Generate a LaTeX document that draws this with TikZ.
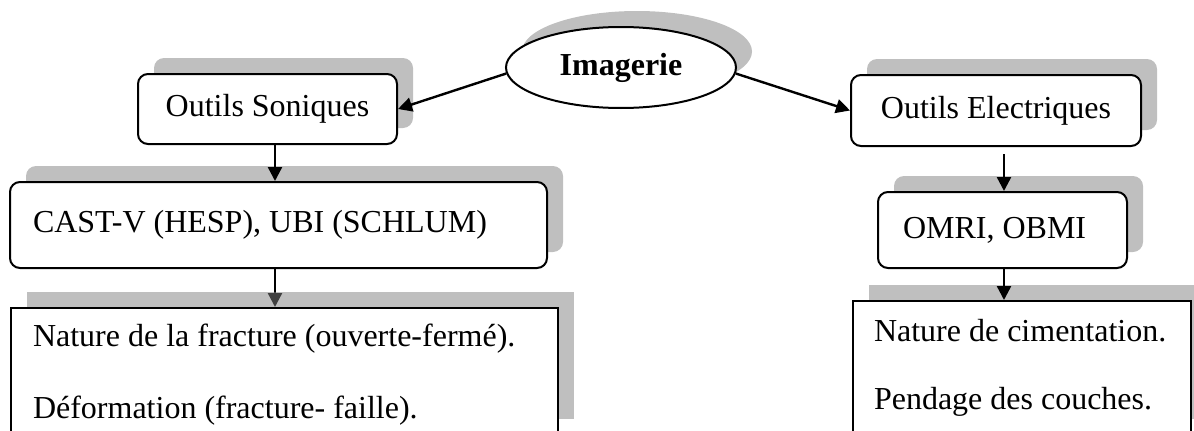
\documentclass[tikz,border=0pt]{standalone}
\usepackage{fontspec}
\setmainfont{Liberation Serif}
\usepackage{tikz}
\usetikzlibrary{arrows.meta,shapes.geometric,shadows}
\pgfdeclarelayer{back}
\pgfsetlayers{back,main}

\begin{document}
\begin{tikzpicture}[
  x=1pt,y=-1pt,
  every node/.style={font=\fontsize{32}{38}\selectfont},
  shad/.style={drop shadow={shadow xshift=16pt,shadow yshift=16pt,
               opacity=.5,fill=black!50}},
  oval/.style={ellipse,draw,line width=2pt,fill=white,shad,inner sep=0pt,
               minimum width=230pt,minimum height=81pt},
  rbox/.style={draw,rounded corners=10pt,line width=2pt,fill=white,shad},
  listbox/.style={draw,line width=2pt,fill=white,shad,align=flush left,
                  anchor=north west,inner ysep=0pt},
  arr/.style={-{Triangle[length=14pt,width=14pt]},line width=2.4pt}
]
  \clip (0,0) rectangle (1194,431);

  \node[oval] (img) at (621,67.5) {\textbf{Imagerie}};

  \node[rbox,minimum width=259pt,minimum height=70pt] (sonic) at (267.5,109) {Outils Soniques};
  \node[rbox,minimum width=290pt,minimum height=71pt] (elec) at (996,110.5) {Outils Electriques};

  \node[rbox,minimum height=86pt,inner xsep=23pt,text width=491pt,align=flush left] (cast)
    at (278.5,225) {CAST-V (HESP), UBI (SCHLUM)};
  \node[rbox,minimum height=76pt,inner xsep=25pt,text width=199pt,align=flush left] (omri)
    at (1002.5,230) {OMRI, OBMI};

  \node[listbox,inner xsep=22pt,text width=503pt,text height=38pt,text depth=89pt] (fracs)
    at (10,307) {Nature de la fracture (ouverte-fermé).\\[34pt]Déformation (fracture- faille).};
  \node[listbox,inner xsep=21pt,text width=296pt,text height=40pt,text depth=94pt] (ciment)
    at (852,300) {Nature de cimentation.\\[30pt]Pendage des couches.};

  \draw[arr] (img.183) -- (sonic.east);
  \draw[arr] (img.357) -- (elec.west);
  \draw[arr] ([xshift=7.5pt]sonic.south) -- ([xshift=7.5pt]sonic.south |- cast.north);
  \begin{pgfonlayer}{back}
    \draw[arr] ([xshift=-3.5pt]cast.south) -- ([xshift=-3.5pt]cast.south |- fracs.north);
  \end{pgfonlayer}
  \draw[arr] ([xshift=8pt,yshift=-7pt]elec.south) -- ([xshift=8pt]elec.south |- omri.north);
  \draw[arr] ([xshift=1.5pt]omri.south) -- ([xshift=1.5pt]omri.south |- ciment.north);
\end{tikzpicture}
\end{document}
